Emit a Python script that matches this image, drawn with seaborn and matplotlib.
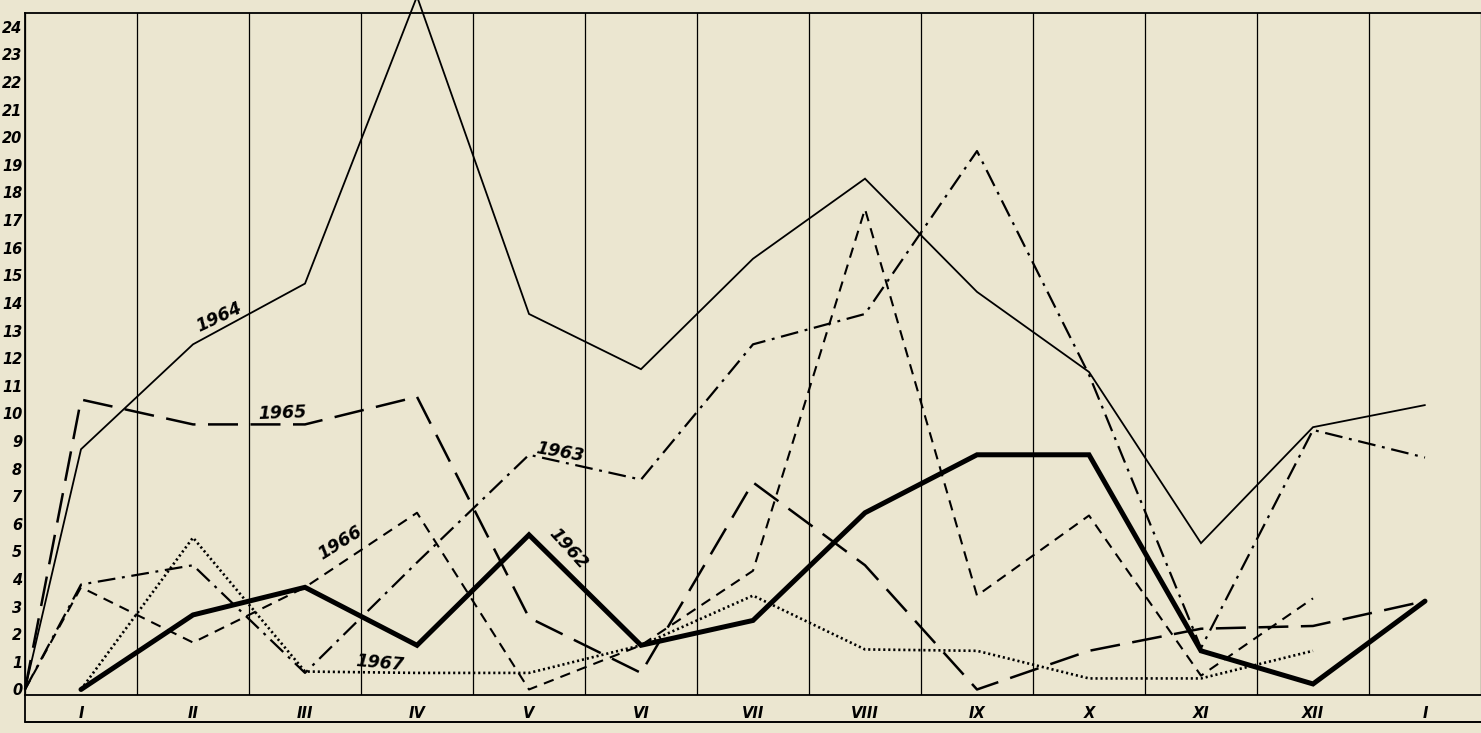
import matplotlib.pyplot as plt
from matplotlib.lines import Line2D
import numpy as np
import pandas as pd
import seaborn as sns

# x position 0 is the left axis (start point), then the 13 month columns
months = ["I", "II", "III", "IV", "V", "VI", "VII", "VIII", "IX", "X", "XI", "XII", "I"]
positions = [0.0] + [k + 0.5 for k in range(len(months))]

# values per year, first entry is the start point on the left axis
v1962 = [None, 0, 2.7, 3.7, 1.6, 5.6, 1.6, 2.5, 6.4, 8.5, 8.5, 1.4, 0.2, 3.2]
v1963 = [0, 3.8, 4.5, 0.6, 4.6, 8.5, 7.6, 12.5, 13.6, 19.5, 11.4, 1.5, 9.4, 8.4]
v1964 = [0, 8.7, 12.5, 14.7, 25.1, 13.6, 11.6, 15.6, 18.5, 14.4, 11.5, 5.3, 9.5, 10.3]
v1965 = [0, 10.5, 9.6, 9.6, 10.6, 2.6, 0.6, 7.5, 4.5, 0, 1.4, 2.2, 2.3, 3.2]
v1966 = [0, 3.7, 1.7, 3.7, 6.4, 0, 1.6, 4.3, 17.4, 3.4, 6.3, 0.5, 3.3, None]
v1967 = [None, 0, 5.5, 0.65, 0.6, 0.6, 1.6, 3.4, 1.45, 1.4, 0.4, 0.4, 1.4, None]

years = {"1962": v1962, "1963": v1963, "1964": v1964,
         "1965": v1965, "1966": v1966, "1967": v1967}

line_styles = {
    "1962": dict(lw=3.6, linestyle="-"),
    "1963": dict(lw=1.6, linestyle=(0, (8, 3, 1.3, 3))),
    "1964": dict(lw=1.3, linestyle="-"),
    "1965": dict(lw=1.8, linestyle=(0, (12, 5))),
    "1966": dict(lw=1.5, linestyle=(0, (5, 3.5))),
    "1967": dict(lw=1.9, linestyle=(0, (0.8, 1.1))),
}

paper = "#ebe6d0"
sns.set_theme(style="white", rc={"figure.facecolor": paper, "axes.facecolor": paper,
                                 "text.color": "black", "xtick.color": "black",
                                 "ytick.color": "black"})
plt.rcParams["font.family"] = ["DejaVu Sans"]

fig = plt.figure(figsize=(14.81, 7.33), dpi=100)
ax = fig.add_axes([25 / 1481, 38 / 733, 1 - 25 / 1481, (695 - 13) / 733])

for year, vals in years.items():
    df = pd.DataFrame({"x": positions, "y": vals}).dropna()
    sns.lineplot(data=df, x="x", y="y", ax=ax, color="black", clip_on=False,
                 solid_joinstyle="miter", **line_styles[year])

ax.set_xlim(0, 13)
ax.set_ylim(-0.2, 24.5)

# month labels in the band under the axis
ax.set_xticks([k + 0.5 for k in range(13)])
ax.set_xticklabels(months, fontsize=10.5, fontweight="bold", style="italic")
ax.tick_params(axis="x", which="major", length=0, pad=8)
ax.set_xticks(np.arange(0, 14), minor=True)
ax.tick_params(axis="x", which="minor", length=20, width=0.9, color="black",
               direction="out")
ax.grid(True, axis="x", which="minor", color="black", lw=0.9)

ax.set_yticks(range(0, 25))
ax.set_yticklabels([str(v) for v in range(0, 25)], fontsize=10.5, fontweight="bold",
                   style="italic")
ax.tick_params(axis="y", length=0, pad=2)

ax.set_xlabel("")
ax.set_ylabel("")
for side in ["left", "top", "bottom"]:
    ax.spines[side].set_color("black")
    ax.spines[side].set_linewidth(1.3)
ax.spines["right"].set_visible(False)

# bottom line of the month band
fig.add_artist(Line2D([25 / 1481, 1], [11 / 733, 11 / 733], color="black", lw=1.4))
fig.add_artist(Line2D([25 / 1481, 25 / 1481], [11 / 733, 38 / 733], color="black", lw=1.3))

# hand written year labels
labels = [
    ("1964", 1.73, 13.5, 25),
    ("1965", 2.3, 10.0, 2),
    ("1963", 4.78, 8.6, -10),
    ("1966", 2.81, 5.3, 32),
    ("1962", 4.85, 5.1, -48),
    ("1967", 3.17, 0.95, -5),
]
for text, x, y, rot in labels:
    ax.text(x, y, text, fontsize=12.5, fontweight="bold", style="italic",
            rotation=rot, ha="center", va="center")

fig.savefig("out.png", dpi=100, facecolor=paper)
